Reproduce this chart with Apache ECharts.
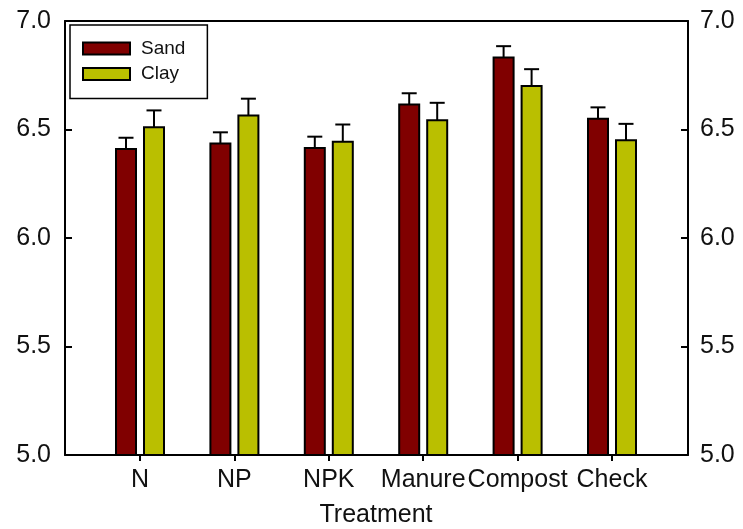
<!DOCTYPE html>
<html><head><meta charset="utf-8">
<script src="https://cdn.jsdelivr.net/npm/echarts@6/dist/echarts.min.js"></script>
<style>html,body{margin:0;padding:0;background:#fff}#c{width:743px;height:529px}</style>
</head><body><div id="c"></div>
<script>
var categories = ['N', 'NP', 'NPK', 'Manure', 'Compost', 'Check'];
var sand = [6.41, 6.435, 6.415, 6.615, 6.832, 6.55];
var clay = [6.51, 6.564, 6.443, 6.543, 6.70, 6.45];
var sandErr = [0.052, 0.052, 0.052, 0.052, 0.052, 0.052];
var clayErr = [0.078, 0.078, 0.08, 0.08, 0.078, 0.076];
var yTicks = [5.0, 5.5, 6.0, 6.5, 7.0];

var FONT = 'Liberation Sans';
var Y_MIN = yTicks[0], Y_MAX = yTicks[yTicks.length - 1];
var chart = echarts.init(document.getElementById('c'));

function barSeries(name, vals, errs, offset, color) {
  var data = vals.map(function (v, i) { return [i, v, errs[i]]; });
  return {
    name: name, type: 'custom', xAxisIndex: 0, yAxisIndex: 0, z: 3,
    itemStyle: { color: color, borderColor: '#000', borderWidth: 2 },
    encode: { x: 0, y: 1 },
    data: data,
    renderItem: function (params, api) {
      var i = api.value(0), v = api.value(1), e = api.value(2);
      var base = api.coord([i, Y_MIN]);
      var top = api.coord([i, v]);
      var cap = api.coord([i, v + e]);
      var x = base[0] + offset;
      var w = 20;
      var st = { stroke: '#000', lineWidth: 2 };
      return { type: 'group', children: [
        { type: 'rect', shape: { x: x - w / 2, y: top[1], width: w, height: base[1] - top[1] },
          style: { fill: color, stroke: '#000', lineWidth: 2 } },
        { type: 'line', shape: { x1: x, y1: top[1], x2: x, y2: cap[1] }, style: st },
        { type: 'line', shape: { x1: x - 7.5, y1: cap[1], x2: x + 7.5, y2: cap[1] }, style: st }
      ]};
    }
  };
}

function yLabel(margin) {
  return { fontFamily: FONT, fontSize: 25, color: '#111', margin: margin,
    formatter: function (v) { return yTicks.indexOf(v) >= 0 ? v.toFixed(1) : ''; } };
}

chart.setOption({
  animation: false,
  legend: {
    left: 70, top: 25, orient: 'vertical',
    padding: [14, 22, 15, 12],
    itemWidth: 47, itemHeight: 12, itemGap: 6.5,
    icon: 'rect',
    itemStyle: { borderColor: '#000', borderWidth: 2 },
    borderColor: '#000', borderWidth: 1.5,
    textStyle: { fontFamily: FONT, fontSize: 19, color: '#111', lineHeight: 19, padding: [0, 0, 0, 6] },
    data: ['Sand', 'Clay']
  },
  grid: [
    { left: 92.8, right: 83.8, top: 21, bottom: 74, containLabel: false, outerBoundsMode: 'none' },
    { left: 65, right: 55, top: 21, bottom: 74, containLabel: false, outerBoundsMode: 'none' }
  ],
  xAxis: [
    { type: 'category', gridIndex: 0, data: categories,
      axisLine: { show: false },
      axisTick: { show: true, alignWithLabel: true, length: 6, lineStyle: { color: '#000', width: 2 } },
      axisLabel: { fontFamily: FONT, fontSize: 25, color: '#111', margin: 13, interval: 0 },
      name: 'Treatment', nameLocation: 'middle', nameGap: 48,
      nameTextStyle: { fontFamily: FONT, fontSize: 25, color: '#111' } },
    { type: 'value', gridIndex: 1, min: 0, max: 1, position: 'bottom',
      axisLine: { show: true, onZero: false, lineStyle: { color: '#000', width: 2 } },
      axisTick: { show: false }, axisLabel: { show: false }, splitLine: { show: false } },
    { type: 'value', gridIndex: 1, min: 0, max: 1, position: 'top',
      axisLine: { show: true, onZero: false, lineStyle: { color: '#000', width: 2 } },
      axisTick: { show: false }, axisLabel: { show: false }, splitLine: { show: false } }
  ],
  yAxis: [
    { type: 'value', gridIndex: 0, min: Y_MIN, max: Y_MAX, show: false },
    { type: 'value', gridIndex: 1, min: Y_MIN, max: Y_MAX, interval: 0.5, position: 'left',
      axisLine: { show: true, onZero: false, lineStyle: { color: '#000', width: 2 } },
      axisTick: { show: true, inside: true, length: 7, lineStyle: { color: '#000', width: 2 } },
      axisLabel: yLabel(14), splitLine: { show: false } },
    { type: 'value', gridIndex: 1, min: Y_MIN, max: Y_MAX, interval: 0.5, position: 'right',
      axisLine: { show: true, onZero: false, lineStyle: { color: '#000', width: 2 } },
      axisTick: { show: true, inside: true, length: 7, lineStyle: { color: '#000', width: 2 } },
      axisLabel: yLabel(12), splitLine: { show: false } }
  ],
  series: [
    barSeries('Sand', sand, sandErr, -14, '#800000'),
    barSeries('Clay', clay, clayErr, 14, '#BABF00')
  ]
});
</script></body></html>
